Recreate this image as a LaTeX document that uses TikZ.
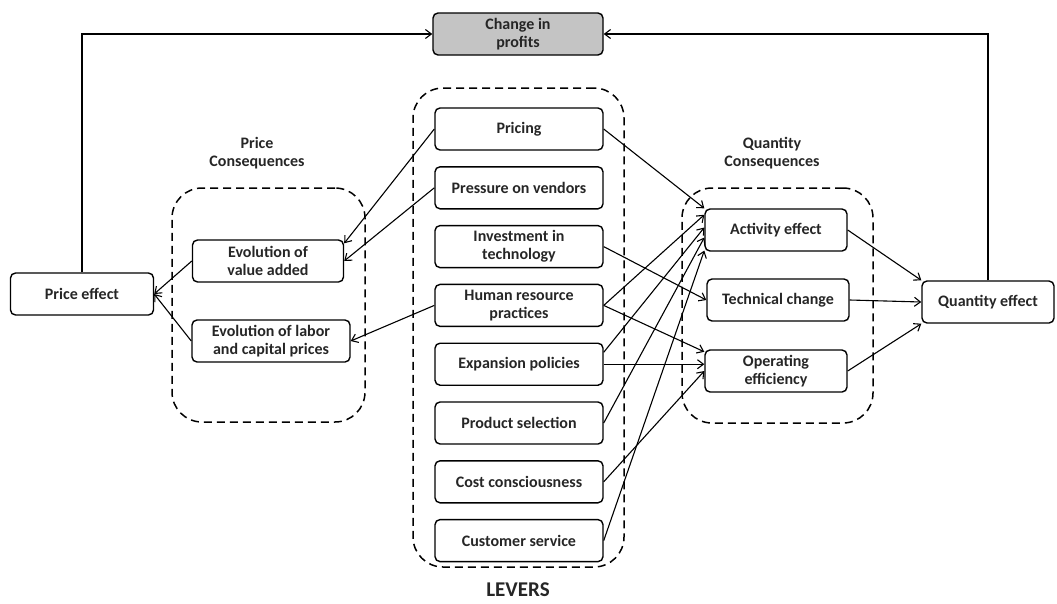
\documentclass[tikz,border=0pt]{standalone}
\usepackage{fontspec}
\setmainfont{Carlito}
\usetikzlibrary{arrows.meta,positioning}
\definecolor{boxgray}{HTML}{C4C4C4}

\begin{document}
\begin{tikzpicture}[x=1pt, y=-1pt,
  node distance=15.4pt,
  every node/.style={font=\fontsize{16}{18}\selectfont\bfseries, text=black!85},
  box/.style={draw, line width=1.4pt, rounded corners=5pt, minimum height=42pt, align=center, inner sep=2pt},
  lever/.style={box, minimum width=168pt},
  grp/.style={draw, line width=1.5pt, rounded corners=30pt, dash pattern=on 8pt off 5pt},
  arr/.style={-{Straight Barb[length=6pt,width=9pt]}, line width=1.1pt},
]
  \useasboundingbox (0,0) rectangle (1057,603);

  % levers
  \node[lever] (pricing) at (519,129) {Pricing};
  \node[lever, below=of pricing] (vendors) {Pressure on vendors};
  \node[lever, below=of vendors] (invest) {Investment in\\technology};
  \node[lever, below=of invest] (hr) {Human resource\\practices};
  \node[lever, below=of hr] (expand) {Expansion policies};
  \node[lever, below=of expand] (product) {Product selection};
  \node[lever, below=of product] (cost) {Cost consciousness};
  \node[lever, below=of cost] (custsvc) {Customer service};
  \node[grp, minimum width=211pt, minimum height=479pt] (levgrp) at (518.5,327.5) {};
  \node[font=\fontsize{21}{24}\selectfont\bfseries] (levlbl) at (518,590) {LEVERS};

  % price side
  \node[box, minimum width=151pt] (valadd) at (268,261) {Evolution of\\value added};
  \node[box, minimum width=158pt] (labor) at (271,341) {Evolution of labor\\and capital prices};
  \node[grp, minimum width=193pt, minimum height=234pt] (pgrp) at (268.5,305) {};
  \node[align=center] (plbl) at (257,153) {Price\\Consequences};
  \node[box, minimum width=143pt] (peff) at (82,294) {Price effect};

  % quantity side
  \node[box, minimum width=142pt] (act) at (776,230) {Activity effect};
  \node[box, minimum width=142pt] (tech) at (778,300) {Technical change};
  \node[box, minimum width=142pt] (opeff) at (776,371) {Operating\\efficiency};
  \node[grp, minimum width=191pt, minimum height=235pt] (qgrp) at (777.5,305.5) {};
  \node[align=center] (qlbl) at (772,153) {Quantity\\Consequences};
  \node[box, minimum width=132pt] (qeff) at (988,302) {Quantity effect};

  % profits
  \node[box, fill=boxgray, minimum width=170pt] (chg) at (518,34) {Change in\\profits};

  % levers to price consequences
  \draw[arr] (pricing.west) -- ([yshift=-4pt]valadd.north east);
  \draw[arr] (vendors.west) -- (valadd.east);
  \draw[arr] (hr.west) -- (labor.east);
  \draw[arr] (valadd.west) -- (peff.east);
  \draw[arr] (labor.west) -- (peff.east);

  % levers to quantity consequences
  \draw[arr] (pricing.east) -- (act.north west);
  \draw[arr] (hr.east) -- (act.168);
  \draw[arr] (expand.8) -- (act.178);
  \draw[arr] (product.east) -- (act.186);
  \draw[arr] (custsvc.east) -- (act.196);
  \draw[arr] (invest.east) -- (tech.west);
  \draw[arr] (hr.east) -- (opeff.165);
  \draw[arr] (expand.east) -- (expand.east -| opeff.west);
  \draw[arr] (cost.east) -- (opeff.west);
  \draw[arr] (act.east) -- (qeff.north west);
  \draw[arr] (tech.east) -- (qeff.west);
  \draw[arr] (opeff.east) -- (qeff.south west);

  % effects to profits
  \draw[arr] (peff.north) |- (chg.west);
  \draw[arr] (qeff.north) |- (chg.east);
\end{tikzpicture}
\end{document}
